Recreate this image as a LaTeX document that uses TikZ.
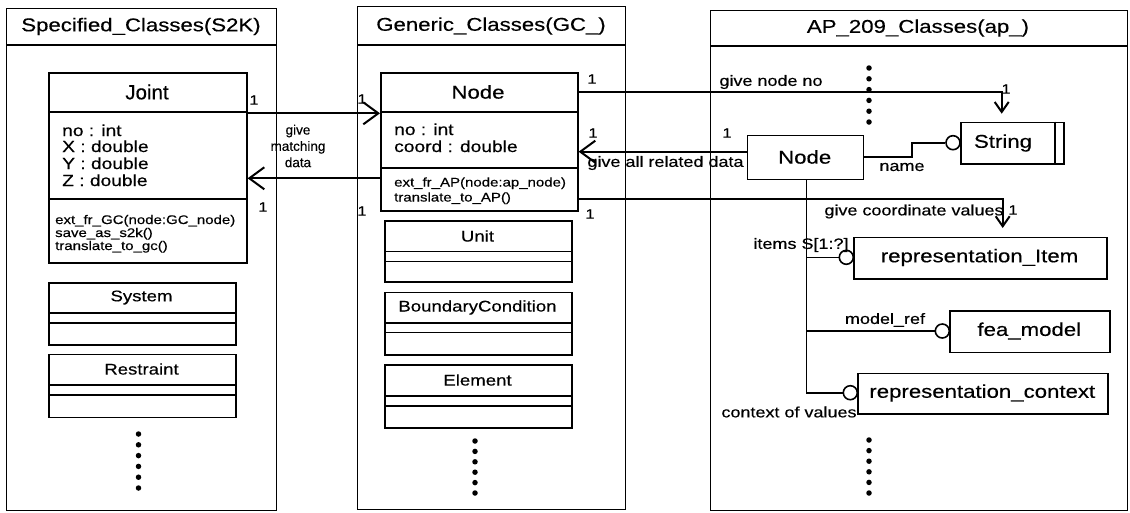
\documentclass[tikz,border=0pt]{standalone}
\usepackage{fontspec}
\setmainfont[FakeStretch=1.2,FakeBold=0.35]{Liberation Sans}
\newfontfamily\narrowfont[FakeBold=0.35]{Liberation Sans}
\usetikzlibrary{arrows.meta,calc}
\tikzset{
 panel/.style={draw, line width=1.3pt, anchor=north west, inner sep=0pt},
 pline/.style={line width=1.3pt},
 cbox/.style={draw, line width=1.6pt, anchor=north west, inner sep=0pt},
 sep/.style={line width=1.6pt},
 conn/.style={line width=2pt},
 bigarr/.style={conn, -{Straight Barb[length=15pt,width=22pt]}},
 downarr/.style={conn, -{Straight Barb[length=10pt,width=14pt]}},
 ref/.style={line width=1.6pt},
 ttl/.style={font=\fontsize{18.5}{20}\selectfont, inner sep=0pt},
 cname/.style={font=\fontsize{18.5}{20}\selectfont, inner sep=0pt},
 attr/.style={font=\fontsize{16}{17}\selectfont, anchor=base west, inner sep=0pt},
 meth/.style={font=\fontsize{12.5}{13}\selectfont, anchor=base west, inner sep=0pt},
 sname/.style={font=\fontsize{15.5}{17}\selectfont, inner sep=0pt},
 lbl/.style={font=\fontsize{15}{16}\selectfont, inner sep=0pt},
 one/.style={font=\fontsize{13.5}{14}\selectfont, inner sep=0pt},
 vdot/.style={circle, fill, inner sep=0pt, minimum size=5.5pt},
 ring/.style={circle, draw, line width=1.6pt, inner sep=0pt, minimum size=14pt, fill=white},
}
\begin{document}
\begin{tikzpicture}[x=1pt,y=-1pt]
\useasboundingbox[fill=white] (0,0) rectangle (1130,512);

% ---------------- panels ----------------
\node[panel, minimum width=270pt, minimum height=502pt] (pS) at (6,8) {};
\draw[pline] ($(pS.north west)+(0,37)$) -- ($(pS.north east)+(0,37)$);
\node[ttl] (tS) at (141,26.5) {Specified\_Classes(S2K)};

\node[panel, minimum width=268pt, minimum height=503pt] (pG) at (357,6) {};
\draw[pline] ($(pG.north west)+(0,39)$) -- ($(pG.north east)+(0,39)$);
\node[ttl] (tG) at (491,26) {Generic\_Classes(GC\_)};

\node[panel, minimum width=417pt, minimum height=500pt] (pA) at (710,10) {};
\draw[pline] ($(pA.north west)+(0,36)$) -- ($(pA.north east)+(0,36)$);
\node[ttl] (tA) at (918,28) {AP\_209\_Classes(ap\_)};

% ---------------- Joint ----------------
\node[cbox, minimum width=198pt, minimum height=190pt] (joint) at (48,72) {};
\draw[sep] ($(joint.north west)+(0,40)$) -- ($(joint.north east)+(0,40)$);
\draw[sep] ($(joint.north west)+(0,127)$) -- ($(joint.north east)+(0,127)$);
\node[font=\narrowfont\fontsize{20.5}{22}\selectfont, inner sep=0pt] (jname) at (147,92) {Joint};
\node[attr] (ja1) at (62,136) {no : int};
\node[attr] (ja2) at (62,152) {X : double};
\node[attr] (ja3) at (62,169) {Y : double};
\node[attr] (ja4) at (62,186) {Z : double};
\node[meth] (jm1) at (55,224) {ext\_fr\_GC(node:GC\_node)};
\node[meth] (jm2) at (55,237) {save\_as\_s2k()};
\node[meth] (jm3) at (55,250) {translate\_to\_gc()};

% System / Restraint
\node[cbox, minimum width=187pt, minimum height=62pt] (system) at (48,282) {};
\draw[sep] ($(system.north west)+(0,31)$) -- ($(system.north east)+(0,31)$);
\draw[sep] ($(system.north west)+(0,41)$) -- ($(system.north east)+(0,41)$);
\node[sname] (sysname) at (141.5,297.5) {System};
\node[cbox, minimum width=187pt, minimum height=63pt] (restraint) at (48,353.5) {};
\draw[sep] ($(restraint.north west)+(0,31.5)$) -- ($(restraint.north east)+(0,31.5)$);
\draw[sep] ($(restraint.north west)+(0,41.5)$) -- ($(restraint.north east)+(0,41.5)$);
\node[sname] (resname) at (141.5,369) {Restraint};
\foreach \i in {0,...,5} \node[vdot] (ld\i) at (138.5,434+10.8*\i) {};

% ---------------- GC Node ----------------
\node[cbox, minimum width=197pt, minimum height=138pt] (gcnode) at (380,72) {};
\draw[sep] ($(gcnode.north west)+(0,40)$) -- ($(gcnode.north east)+(0,40)$);
\draw[sep] ($(gcnode.north west)+(0,96)$) -- ($(gcnode.north east)+(0,96)$);
\node[cname] (gname) at (478,92) {Node};
\node[attr] (ga1) at (394,135) {no : int};
\node[attr] (ga2) at (394,152) {coord : double};
\node[meth] (gm1) at (394,186.5) {ext\_fr\_AP(node:ap\_node)};
\node[meth] (gm2) at (394,201.5) {translate\_to\_AP()};

\node[cbox, minimum width=187pt, minimum height=61pt] (unit) at (384,220) {};
\draw[sep] ($(unit.north west)+(0,31.5)$) -- ($(unit.north east)+(0,31.5)$);
\draw[sep] ($(unit.north west)+(0,41.5)$) -- ($(unit.north east)+(0,41.5)$);
\node[sname] (unitname) at (477.5,236) {Unit};
\node[cbox, minimum width=187pt, minimum height=62.5pt] (bc) at (384,291.5) {};
\draw[sep] ($(bc.north west)+(0,31.5)$) -- ($(bc.north east)+(0,31.5)$);
\draw[sep] ($(bc.north west)+(0,41)$) -- ($(bc.north east)+(0,41)$);
\node[sname] (bcname) at (477.5,307.5) {BoundaryCondition};
\node[cbox, minimum width=187pt, minimum height=63pt] (element) at (384,364) {};
\draw[sep] ($(element.north west)+(0,32)$) -- ($(element.north east)+(0,32)$);
\draw[sep] ($(element.north west)+(0,42)$) -- ($(element.north east)+(0,42)$);
\node[sname] (elname) at (477.5,380) {Element};
\foreach \i in {0,...,5} \node[vdot] (md\i) at (475,441+10.4*\i) {};

% ---------------- AP panel ----------------
\foreach \i in {0,...,5} \node[vdot] (td\i) at (869,68+10.8*\i) {};
\foreach \i in {0,...,5} \node[vdot] (bd\i) at (869,440+10.6*\i) {};

\node[cbox, line width=1.3pt, minimum width=116pt, minimum height=43.5pt] (apnode) at (746.7,135) {};
\node[cname] (apname) at (804.7,157) {Node};

\node[cbox, minimum width=103pt, minimum height=41.3pt] (string) at (960,121.7) {};
\draw[sep] ($(string.north west)+(95,0)$) -- ($(string.south west)+(95,0)$);
\node[cname] (strname) at (1003,143) {String};
\node[ring] (ringS) at (953,142.7) {};

\node[cbox, minimum width=252.7pt, minimum height=41.6pt] (repitem) at (853.3,236.7) {};
\node[cname] (riname) at (979.5,257.5) {representation\_Item};
\node[ring] (ringI) at (846.3,257.3) {};

\node[cbox, minimum width=160pt, minimum height=41.7pt] (fea) at (949.3,310) {};
\node[cname] (feaname) at (1029.3,331) {fea\_model};
\node[ring] (ringF) at (942.3,331) {};

\node[cbox, minimum width=250pt, minimum height=40.6pt] (context) at (857.3,372.7) {};
\node[cname] (ctxname) at (982.3,393) {representation\_context};
\node[ring] (ringC) at (850.3,392.7) {};

% ---------------- connectors ----------------
\draw[bigarr] ($(joint.north east)+(0,41.3)$) -- ($(gcnode.north west)+(0,41.3)$);
\draw[bigarr] ($(gcnode.north west)+(0,106.3)$) -- ($(joint.north east)+(0,106.3)$);
\draw[downarr] ($(gcnode.north east)+(0,20)$) -| ($(string.north west)+(41.7,-8)$);
\draw[bigarr] ($(apnode.north west)+(0,16.7)$) -- ($(gcnode.north east)+(0,79.7)$);
\draw[downarr] ($(gcnode.north east)+(0,127.3)$) -| ($(repitem.north west)+(149.4,-8.7)$);

\draw[ref] ($(apnode.north east)+(0,21.7)$) -- ++(48,0) |- (ringS.west);
\coordinate (tk) at ($(apnode.south)+(1.3,0)$);
\draw[ref] (tk) |- (ringC.west);
\draw[ref] (tk |- ringI.west) -- (ringI.west);
\draw[ref] (tk |- ringF.west) -- (ringF.west);

% ---------------- labels ----------------
\node[font=\narrowfont\fontsize{13.5}{16.3}\selectfont, align=center, inner sep=0pt] (gmd) at (298,146) {give\\matching\\data};
\node[one] (o1) at (254,100) {1};
\node[one] (o2) at (362,99) {1};
\node[one] (o3) at (263,207) {1};
\node[one] (o4) at (362,211) {1};
\node[one] (o5) at (592,79) {1};
\node[one] (o6) at (593,133) {1};
\node[one] (o7) at (590,214) {1};
\node[one] (o8) at (727,133) {1};
\node[one] (o9) at (1006,89) {1};
\node[one] (o10) at (1013,210) {1};

\node[lbl] (gnn) at (771,82) {give node no};
\node[lbl] (gard) at (665.5,163) {give all related data};
\node[lbl] (nm) at (902,167) {name};
\node[lbl] (gcv) at (914,211.5) {give coordinate values};
\node[lbl] (its) at (801,245) {items S[1:?]};
\node[lbl] (mref) at (885,320) {model\_ref};
\node[lbl] (cov) at (789,412) {context of values};
\end{tikzpicture}
\end{document}
